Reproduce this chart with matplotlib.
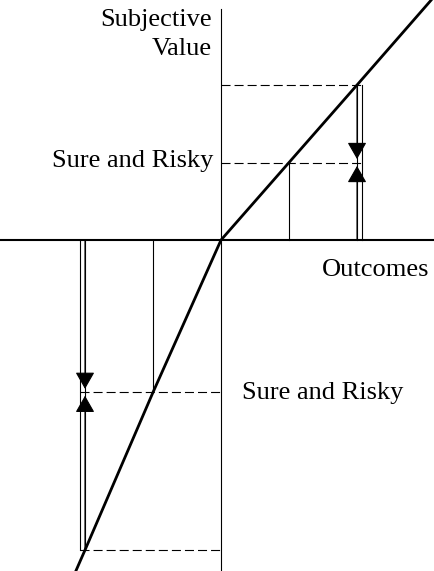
import matplotlib
matplotlib.use("Agg")
import matplotlib.pyplot as plt

# value function (outcome -> subjective value)
curve_x = [-107, -100, -50, 0, 50, 100, 155]
curve_v = [-244, -228, -112, 0, 57, 114, 177]

# sure / risky outcomes and their subjective values
sure_gain, risky_gain = 50, 100
sure_gain_v, risky_gain_v = 57, 114
sure_loss, risky_loss = -50, -100
sure_loss_v, risky_loss_v = -112, -228
risky_offset = 4  # second line of the risky pair

plt.rcParams["lines.scale_dashes"] = False
plt.rcParams["font.family"] = ["Liberation Serif", "DejaVu Serif"]

fig = plt.figure(figsize=(4.34, 5.71), dpi=100)
ax = fig.add_axes([0, 0, 1, 1])
ax.set_xlim(-162.5, 156.6)
ax.set_ylim(-243.4, 176.5)
ax.axis("off")

dash = (0, (6.5, 2.9))
thin = 0.8

# axes
ax.axhline(0, color="black", lw=1.5)
ax.plot([0, 0], [-243.4, 170], color="black", lw=thin)

# value function
ax.plot(curve_x, curve_v, color="black", lw=2.0, solid_capstyle="butt")

# gains
outer_g = risky_gain + risky_offset
ax.plot([0, outer_g], [risky_gain_v, risky_gain_v], color="black", lw=thin, linestyle=dash)
ax.plot([0, outer_g], [sure_gain_v, sure_gain_v], color="black", lw=thin, linestyle=dash)
ax.plot([sure_gain, sure_gain], [0, sure_gain_v], color="black", lw=thin)
ax.plot([risky_gain, risky_gain], [0, risky_gain_v], color="black", lw=thin)
ax.plot([outer_g, outer_g], [0, risky_gain_v], color="black", lw=thin)

# losses
outer_l = risky_loss - risky_offset
ax.plot([outer_l, 0], [risky_loss_v, risky_loss_v], color="black", lw=thin, linestyle=dash)
ax.plot([outer_l, 0], [sure_loss_v, sure_loss_v], color="black", lw=thin, linestyle=dash)
ax.plot([sure_loss, sure_loss], [0, sure_loss_v], color="black", lw=thin)
ax.plot([risky_loss, risky_loss], [0, risky_loss_v], color="black", lw=thin)
ax.plot([outer_l, outer_l], [0, risky_loss_v], color="black", lw=thin)

# arrows meeting at the sure value
gap = 2.5
style = dict(arrowstyle="-|>,head_length=10.5,head_width=6", color="black",
             lw=thin, shrinkA=0, shrinkB=0, mutation_scale=1)
ax.annotate("", xy=(risky_gain, sure_gain_v + gap), xytext=(risky_gain, risky_gain_v), arrowprops=style)
ax.annotate("", xy=(risky_gain, sure_gain_v - gap), xytext=(risky_gain, 0), arrowprops=style)
ax.annotate("", xy=(risky_loss, sure_loss_v + gap), xytext=(risky_loss, 0), arrowprops=style)
ax.annotate("", xy=(risky_loss, sure_loss_v - gap), xytext=(risky_loss, risky_loss_v), arrowprops=style)

fs = 19
ax.text(-6.6, 157.4, "Subjective", ha="right", va="baseline", fontsize=fs)
ax.text(-6.6, 136, "Value", ha="right", va="baseline", fontsize=fs)
ax.text(-5.9, 53.7, "Sure and Risky", ha="right", va="baseline", fontsize=fs)
ax.text(153, -26.5, "Outcomes", ha="right", va="baseline", fontsize=fs)
ax.text(15.4, -117, "Sure and Risky", ha="left", va="baseline", fontsize=fs)

fig.savefig("out.png", dpi=100)
